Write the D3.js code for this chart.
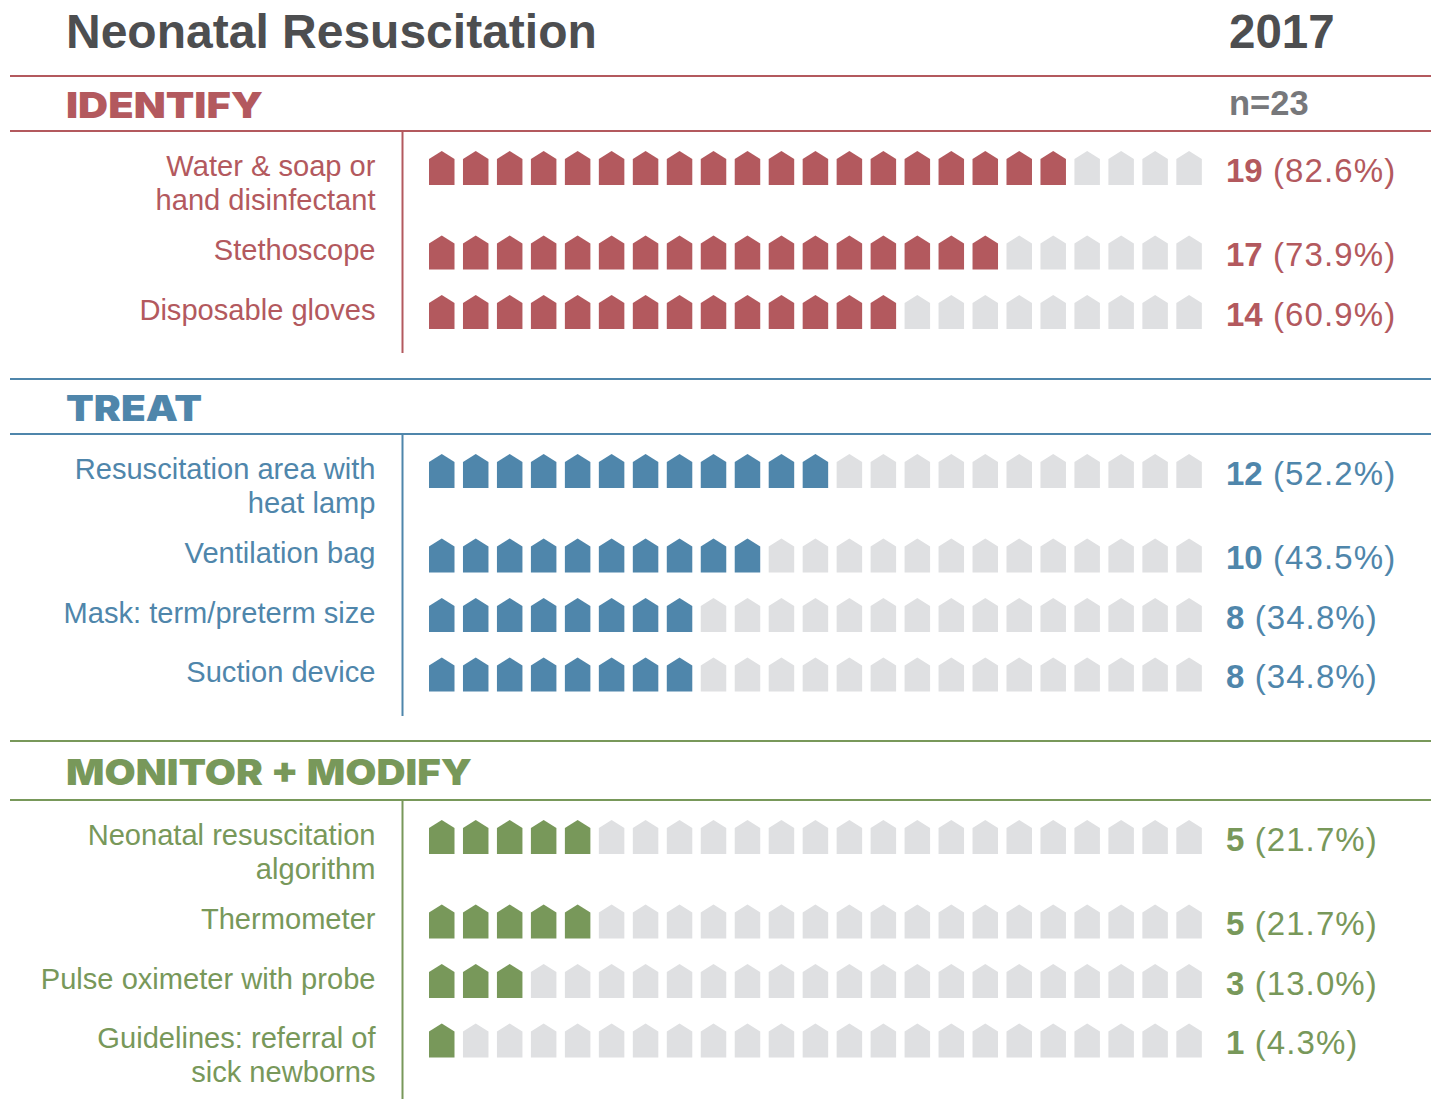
<!DOCTYPE html>
<html>
<head>
<meta charset="utf-8">
<script src="https://cdn.jsdelivr.net/npm/d3@7"></script>
<style>
  html, body { margin: 0; padding: 0; background: #fff; }
  svg { display: block; }
  text { font-family: "Liberation Sans", Arial, sans-serif; }
  text.head { font-family: Inter, "Liberation Sans", sans-serif; font-weight: 900; }
</style>
</head>
<body>
<div id="chart"></div>
<script>
var total = 23;

var sectionNames = ["IDENTIFY", "TREAT", "MONITOR + MODIFY"];
var sectionColors = ["#b3595e", "#4f86ab", "#78985a"];
var emptyColor = "#dfe0e2";

var identifyLabels = ["Water & soap or\nhand disinfectant", "Stethoscope", "Disposable gloves"];
var identifyCounts = [19, 17, 14];
var identifyPcts = ["82.6%", "73.9%", "60.9%"];

var treatLabels = ["Resuscitation area with\nheat lamp", "Ventilation bag", "Mask: term/preterm size", "Suction device"];
var treatCounts = [12, 10, 8, 8];
var treatPcts = ["52.2%", "43.5%", "34.8%", "34.8%"];

var monitorLabels = ["Neonatal resuscitation\nalgorithm", "Thermometer", "Pulse oximeter with probe", "Guidelines: referral of\nsick newborns"];
var monitorCounts = [5, 5, 3, 1];
var monitorPcts = ["21.7%", "21.7%", "13.0%", "4.3%"];

var labelLists = [identifyLabels, treatLabels, monitorLabels];
var countLists = [identifyCounts, treatCounts, monitorCounts];
var pctLists = [identifyPcts, treatPcts, monitorPcts];

// layout of each block: top rule, lower rule, end of the vertical rule
var blockTop = [76, 379, 741];
var blockRule = [131, 434, 800];
var blockEnd = [353, 716, 1099];
// the heading face is wider in the original, so stretch to its widths
var headWidths = [197, 136, 406];

var width = 1432, height = 1099;
var iconW = 25.5, iconH = 34, iconShoulder = 8;

var svg = d3.select("#chart").append("svg")
  .attr("width", width)
  .attr("height", height);

// one icon slot per person
var x = d3.scaleLinear().domain([0, total]).range([429, 429 + total * 33.97]);

function house(i, bottom) {
  var p = d3.path();
  var l = x(i), r = l + iconW;
  p.moveTo(l, bottom);
  p.lineTo(l, bottom - iconH + iconShoulder);
  p.lineTo((l + r) / 2, bottom - iconH);
  p.lineTo(r, bottom - iconH + iconShoulder);
  p.lineTo(r, bottom);
  p.closePath();
  return p.toString();
}

// title row
svg.append("text").attr("x", 66).attr("y", 47.5)
  .style("font-size", "48px").style("font-weight", 700).attr("fill", "#4d4e50")
  .text("Neonatal Resuscitation");
svg.append("text").attr("x", 1229).attr("y", 47.5)
  .style("font-size", "47.5px").style("font-weight", 700).attr("fill", "#4d4e50")
  .text("2017");
svg.append("text").attr("x", 1229).attr("y", 114.5)
  .style("font-size", "34.5px").style("font-weight", 700).attr("fill", "#77787b")
  .text("n=" + total);

sectionNames.forEach(function(name, s) {
  var color = sectionColors[s];
  var g = svg.append("g");

  g.selectAll("line.rule").data([blockTop[s], blockRule[s]]).enter().append("line")
    .attr("class", "rule")
    .attr("x1", 10).attr("x2", 1431)
    .attr("y1", function(d) { return d; }).attr("y2", function(d) { return d; })
    .attr("stroke", color).attr("stroke-width", 2.2);

  g.append("line")
    .attr("x1", 402.5).attr("x2", 402.5)
    .attr("y1", blockRule[s]).attr("y2", blockEnd[s])
    .attr("stroke", color).attr("stroke-width", 2);

  g.append("text").attr("class", "head")
    .attr("x", 66).attr("y", (blockTop[s] + blockRule[s]) / 2 + 14)
    .attr("textLength", headWidths[s])
    .attr("lengthAdjust", "spacingAndGlyphs")
    .style("font-size", "36px")
    .attr("fill", color)
    .text(name);

  // rows with a two line label take more room
  var rowBottom = blockRule[s] + 54;
  labelLists[s].forEach(function(label, r) {
    var lines = label.split("\n");
    var row = g.append("g");

    row.append("text")
      .attr("text-anchor", "end")
      .attr("fill", color)
      .style("font-size", "29.1px")
      .selectAll("tspan").data(lines).enter().append("tspan")
      .attr("x", 375.5)
      .attr("y", function(d, i) { return rowBottom - 9.5 + i * 34; })
      .text(function(d) { return d; });

    row.selectAll("path").data(d3.range(total)).enter().append("path")
      .attr("d", function(d) { return house(d, rowBottom); })
      .attr("fill", function(d) { return d < countLists[s][r] ? color : emptyColor; });

    var val = row.append("text")
      .attr("x", 1226).attr("y", rowBottom - 3.5)
      .attr("fill", color)
      .style("font-size", "33px");
    val.append("tspan").style("font-weight", 700).text(countLists[s][r]);
    val.append("tspan").style("letter-spacing", "1.1px").text(" (" + pctLists[s][r] + ")");

    rowBottom += lines.length > 1 ? 84.5 : 59.5;
  });
});
</script>
</body>
</html>
